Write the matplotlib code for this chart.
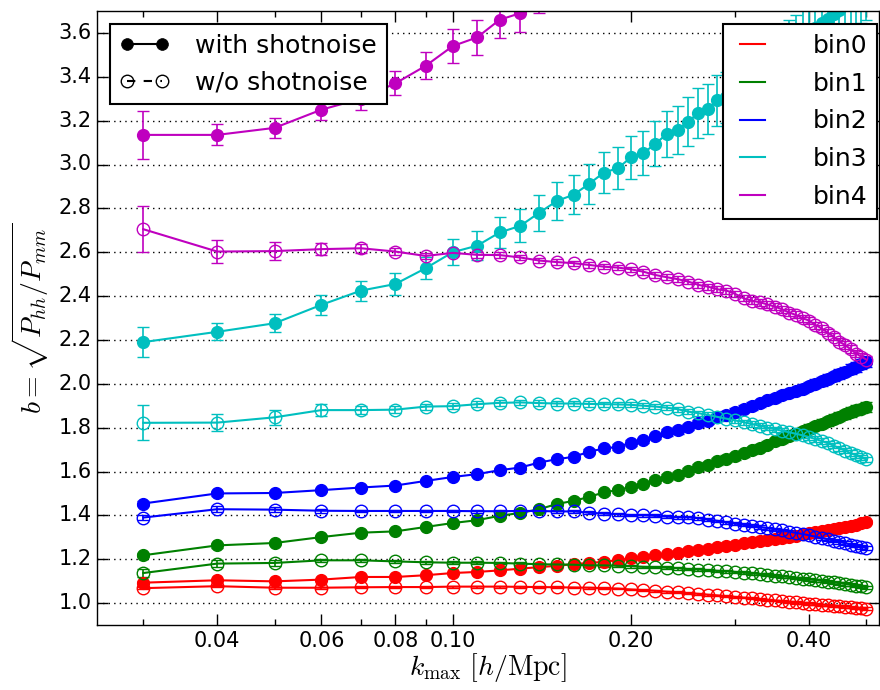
import matplotlib
matplotlib.use("Agg")
import matplotlib.pyplot as plt
from matplotlib.lines import Line2D
from matplotlib.ticker import FixedLocator, FormatStrFormatter, NullFormatter

# k_max values [h/Mpc]
kmax = [0.03, 0.04, 0.05, 0.06, 0.07, 0.08, 0.09, 0.10, 0.11, 0.12,
        0.13, 0.14, 0.15, 0.16, 0.17, 0.18, 0.19, 0.20, 0.21, 0.22,
        0.23, 0.24, 0.25, 0.26, 0.27, 0.28, 0.29, 0.30, 0.31, 0.32,
        0.33, 0.34, 0.35, 0.36, 0.37, 0.38, 0.39, 0.40, 0.41, 0.42,
        0.43, 0.44, 0.45, 0.46, 0.47, 0.48, 0.49, 0.50]

# bias with shotnoise
b_with_0 = [1.093, 1.104, 1.099, 1.107, 1.119, 1.119, 1.127, 1.137, 1.142, 1.149,
            1.157, 1.164, 1.170, 1.178, 1.183, 1.188, 1.196, 1.204, 1.211, 1.217,
            1.224, 1.229, 1.236, 1.242, 1.248, 1.254, 1.260, 1.266, 1.272, 1.277,
            1.283, 1.288, 1.293, 1.298, 1.303, 1.308, 1.313, 1.318, 1.323, 1.328,
            1.333, 1.338, 1.343, 1.348, 1.353, 1.358, 1.363, 1.370]
b_with_1 = [1.218, 1.263, 1.274, 1.301, 1.321, 1.327, 1.347, 1.365, 1.378, 1.398,
            1.411, 1.428, 1.452, 1.466, 1.484, 1.505, 1.515, 1.530, 1.545, 1.560,
            1.575, 1.586, 1.604, 1.619, 1.630, 1.646, 1.659, 1.670, 1.684, 1.697,
            1.709, 1.723, 1.737, 1.749, 1.761, 1.773, 1.785, 1.796, 1.807, 1.818,
            1.829, 1.840, 1.850, 1.860, 1.870, 1.879, 1.887, 1.895]
b_with_2 = [1.454, 1.500, 1.502, 1.515, 1.527, 1.536, 1.557, 1.575, 1.588, 1.606,
            1.618, 1.641, 1.656, 1.667, 1.690, 1.705, 1.712, 1.731, 1.742, 1.760,
            1.778, 1.787, 1.804, 1.820, 1.831, 1.847, 1.858, 1.872, 1.886, 1.899,
            1.911, 1.924, 1.937, 1.947, 1.957, 1.967, 1.978, 1.990, 2.001, 2.012,
            2.023, 2.034, 2.045, 2.056, 2.067, 2.078, 2.089, 2.100]
b_with_3 = [2.190, 2.237, 2.276, 2.360, 2.425, 2.455, 2.527, 2.600, 2.630, 2.690,
            2.720, 2.780, 2.834, 2.862, 2.912, 2.963, 2.983, 3.032, 3.052, 3.095,
            3.139, 3.158, 3.196, 3.235, 3.254, 3.292, 3.306, 3.342, 3.372, 3.400,
            3.427, 3.454, 3.480, 3.505, 3.530, 3.554, 3.577, 3.600, 3.622, 3.644,
            3.665, 3.686, 3.706, 3.726, 3.745, 3.764, 3.782, 3.800]
b_with_4 = [3.135, 3.135, 3.167, 3.250, 3.300, 3.370, 3.450, 3.540, 3.580, 3.660,
            3.690, 3.780, 3.830, 3.880, 3.940, 3.990, 4.040, 4.090, 4.130, 4.180,
            4.220, 4.260, 4.300, 4.340, 4.380, 4.420, 4.460, 4.500, 4.530, 4.570,
            4.600, 4.640, 4.670, 4.700, 4.730, 4.760, 4.790, 4.820, 4.850, 4.880,
            4.900, 4.930, 4.960, 4.980, 5.010, 5.030, 5.060, 5.080]

# bias without shotnoise
b_wo_0 = [1.068, 1.077, 1.070, 1.070, 1.072, 1.073, 1.073, 1.075, 1.075, 1.075,
          1.074, 1.073, 1.072, 1.071, 1.070, 1.068, 1.066, 1.062, 1.059, 1.056,
          1.052, 1.049, 1.045, 1.042, 1.038, 1.035, 1.031, 1.028, 1.025, 1.022,
          1.018, 1.015, 1.012, 1.009, 1.006, 1.003, 1.000, 0.998, 0.995, 0.993,
          0.991, 0.988, 0.986, 0.984, 0.982, 0.979, 0.977, 0.975]
b_wo_1 = [1.137, 1.180, 1.183, 1.195, 1.195, 1.190, 1.186, 1.184, 1.184, 1.183,
          1.180, 1.177, 1.176, 1.175, 1.172, 1.172, 1.170, 1.168, 1.165, 1.164,
          1.161, 1.159, 1.155, 1.153, 1.150, 1.147, 1.145, 1.142, 1.139, 1.136,
          1.132, 1.129, 1.125, 1.122, 1.119, 1.115, 1.111, 1.108, 1.105, 1.101,
          1.098, 1.094, 1.091, 1.087, 1.084, 1.080, 1.076, 1.072]
b_wo_2 = [1.390, 1.428, 1.426, 1.421, 1.420, 1.420, 1.420, 1.420, 1.419, 1.419,
          1.420, 1.420, 1.418, 1.418, 1.412, 1.408, 1.405, 1.401, 1.400, 1.398,
          1.394, 1.391, 1.391, 1.387, 1.380, 1.375, 1.368, 1.362, 1.357, 1.352,
          1.347, 1.342, 1.336, 1.331, 1.326, 1.320, 1.315, 1.309, 1.303, 1.297,
          1.291, 1.285, 1.279, 1.273, 1.267, 1.262, 1.256, 1.251]
b_wo_3 = [1.822, 1.823, 1.847, 1.880, 1.880, 1.882, 1.896, 1.898, 1.907, 1.913,
          1.915, 1.912, 1.910, 1.910, 1.908, 1.907, 1.906, 1.904, 1.900, 1.896,
          1.891, 1.884, 1.873, 1.866, 1.858, 1.849, 1.841, 1.833, 1.825, 1.817,
          1.809, 1.800, 1.793, 1.786, 1.779, 1.772, 1.765, 1.757, 1.748, 1.739,
          1.729, 1.718, 1.706, 1.695, 1.684, 1.674, 1.664, 1.655]
b_wo_4 = [2.705, 2.603, 2.605, 2.614, 2.618, 2.603, 2.583, 2.597, 2.588, 2.587,
          2.576, 2.562, 2.555, 2.550, 2.542, 2.534, 2.530, 2.522, 2.511, 2.496,
          2.486, 2.477, 2.466, 2.451, 2.443, 2.431, 2.425, 2.410, 2.390, 2.379,
          2.372, 2.362, 2.352, 2.340, 2.325, 2.314, 2.299, 2.288, 2.268, 2.253,
          2.233, 2.215, 2.192, 2.177, 2.158, 2.138, 2.124, 2.110]

# 1-sigma errors, with shotnoise
e_with_0 = [0.006, 0.005, 0.005, 0.005, 0.005, 0.005, 0.005, 0.005, 0.005, 0.005,
            0.005, 0.005, 0.005, 0.005, 0.005, 0.005, 0.005, 0.005, 0.005, 0.005,
            0.005, 0.005, 0.006, 0.006, 0.006, 0.006, 0.006, 0.006, 0.006, 0.006,
            0.006, 0.006, 0.006, 0.007, 0.007, 0.007, 0.007, 0.007, 0.007, 0.007,
            0.007, 0.007, 0.008, 0.008, 0.008, 0.008, 0.008, 0.008]
e_with_1 = [0.010, 0.012, 0.010, 0.009, 0.009, 0.009, 0.009, 0.010, 0.010, 0.010,
            0.010, 0.011, 0.011, 0.011, 0.012, 0.012, 0.012, 0.013, 0.013, 0.013,
            0.014, 0.014, 0.014, 0.015, 0.015, 0.015, 0.016, 0.016, 0.016, 0.017,
            0.017, 0.017, 0.018, 0.018, 0.018, 0.019, 0.019, 0.019, 0.020, 0.020,
            0.020, 0.021, 0.021, 0.021, 0.022, 0.022, 0.022, 0.023]
e_with_2 = [0.010, 0.012, 0.010, 0.009, 0.009, 0.009, 0.009, 0.010, 0.010, 0.010,
            0.010, 0.011, 0.011, 0.011, 0.012, 0.012, 0.012, 0.013, 0.013, 0.013,
            0.014, 0.014, 0.014, 0.015, 0.015, 0.015, 0.016, 0.016, 0.016, 0.017,
            0.017, 0.017, 0.018, 0.018, 0.018, 0.019, 0.019, 0.019, 0.020, 0.020,
            0.020, 0.021, 0.021, 0.021, 0.022, 0.022, 0.022, 0.023]
e_with_3 = [0.068, 0.038, 0.041, 0.046, 0.046, 0.050, 0.050, 0.060, 0.067, 0.070,
            0.075, 0.082, 0.085, 0.088, 0.090, 0.093, 0.097, 0.100, 0.102, 0.104,
            0.106, 0.108, 0.110, 0.112, 0.114, 0.116, 0.118, 0.120, 0.121, 0.122,
            0.123, 0.124, 0.125, 0.126, 0.127, 0.128, 0.129, 0.130, 0.131, 0.132,
            0.133, 0.134, 0.135, 0.136, 0.137, 0.138, 0.139, 0.140]
e_with_4 = [0.110, 0.048, 0.044, 0.046, 0.050, 0.055, 0.061, 0.076, 0.080, 0.085,
            0.088, 0.090, 0.093, 0.096, 0.099, 0.102, 0.105, 0.108, 0.110, 0.112,
            0.114, 0.116, 0.118, 0.120, 0.122, 0.124, 0.126, 0.128, 0.130, 0.132,
            0.134, 0.136, 0.138, 0.140, 0.142, 0.144, 0.146, 0.148, 0.150, 0.152,
            0.154, 0.156, 0.158, 0.160, 0.162, 0.164, 0.166, 0.168]

# 1-sigma errors, without shotnoise
e_wo_0 = [0.006, 0.004, 0.004, 0.004, 0.004, 0.004, 0.004, 0.004, 0.004, 0.004,
          0.004, 0.004, 0.004, 0.004, 0.004, 0.004, 0.004, 0.004, 0.004, 0.004,
          0.004, 0.004, 0.004, 0.004, 0.004, 0.004, 0.004, 0.004, 0.004, 0.004,
          0.004, 0.004, 0.004, 0.004, 0.004, 0.005, 0.005, 0.005, 0.005, 0.005,
          0.005, 0.005, 0.005, 0.005, 0.005, 0.005, 0.005, 0.005]
e_wo_1 = [0.018, 0.015, 0.012, 0.008, 0.007, 0.006, 0.006, 0.006, 0.006, 0.006,
          0.006, 0.006, 0.006, 0.006, 0.006, 0.006, 0.006, 0.006, 0.006, 0.006,
          0.006, 0.006, 0.006, 0.006, 0.006, 0.006, 0.006, 0.006, 0.006, 0.006,
          0.006, 0.006, 0.006, 0.006, 0.006, 0.006, 0.006, 0.007, 0.007, 0.007,
          0.007, 0.007, 0.007, 0.007, 0.007, 0.007, 0.007, 0.007]
e_wo_2 = [0.010, 0.014, 0.012, 0.008, 0.006, 0.006, 0.006, 0.006, 0.006, 0.006,
          0.006, 0.006, 0.006, 0.006, 0.006, 0.006, 0.006, 0.006, 0.006, 0.006,
          0.006, 0.006, 0.006, 0.006, 0.006, 0.006, 0.006, 0.006, 0.007, 0.007,
          0.007, 0.007, 0.007, 0.007, 0.007, 0.007, 0.007, 0.007, 0.007, 0.008,
          0.008, 0.008, 0.008, 0.008, 0.008, 0.008, 0.008, 0.008]
e_wo_3 = [0.080, 0.038, 0.033, 0.027, 0.018, 0.015, 0.014, 0.013, 0.013, 0.013,
          0.012, 0.012, 0.012, 0.012, 0.012, 0.012, 0.012, 0.012, 0.012, 0.012,
          0.012, 0.012, 0.012, 0.012, 0.012, 0.012, 0.012, 0.012, 0.012, 0.012,
          0.012, 0.012, 0.012, 0.012, 0.012, 0.012, 0.012, 0.012, 0.012, 0.012,
          0.012, 0.012, 0.012, 0.012, 0.012, 0.012, 0.012, 0.012]
e_wo_4 = [0.106, 0.053, 0.042, 0.027, 0.021, 0.015, 0.015, 0.013, 0.013, 0.012,
          0.012, 0.012, 0.012, 0.012, 0.012, 0.012, 0.012, 0.012, 0.013, 0.013,
          0.013, 0.013, 0.013, 0.013, 0.014, 0.014, 0.014, 0.014, 0.014, 0.015,
          0.015, 0.015, 0.015, 0.015, 0.016, 0.016, 0.016, 0.016, 0.016, 0.017,
          0.017, 0.017, 0.017, 0.018, 0.018, 0.018, 0.018, 0.018]

labels = ['bin0', 'bin1', 'bin2', 'bin3', 'bin4']
colors = ['r', 'g', 'b', 'c', 'm']
with_sn = [b_with_0, b_with_1, b_with_2, b_with_3, b_with_4]
wo_sn = [b_wo_0, b_wo_1, b_wo_2, b_wo_3, b_wo_4]
err_with = [e_with_0, e_with_1, e_with_2, e_with_3, e_with_4]
err_wo = [e_wo_0, e_wo_1, e_wo_2, e_wo_3, e_wo_4]

yticks = [1.0, 1.2, 1.4, 1.6, 1.8, 2.0, 2.2, 2.4, 2.6, 2.8, 3.0, 3.2, 3.4, 3.6]
xticks_major = [0.04, 0.06, 0.08, 0.10, 0.20, 0.40]
xticks_minor = [0.03, 0.05, 0.07, 0.09, 0.30, 0.50]

plt.style.use('classic')
plt.rcParams['mathtext.fontset'] = 'cm'

fig = plt.figure(figsize=(8.8, 6.9), dpi=100, facecolor='white')
ax = fig.add_axes([97/880, 65/690, 782/880, 614/690])

for i in range(5):
    # filled: with shotnoise, open: without
    ax.errorbar(kmax, with_sn[i], yerr=err_with[i], color=colors[i],
                marker='o', markersize=8.5, markeredgecolor=colors[i],
                markeredgewidth=1.0,
                linewidth=1.5, elinewidth=1.2, capsize=4.5, capthick=1.2)
    ax.errorbar(kmax, wo_sn[i], yerr=err_wo[i], color=colors[i],
                marker='o', markersize=9, markerfacecolor='none',
                markeredgecolor=colors[i], markeredgewidth=1.0,
                linewidth=1.5, elinewidth=1.2, capsize=4.5, capthick=1.2)

ax.set_xscale('log')
ax.set_xlim(0.02506, 0.525)
ax.set_ylim(0.9, 3.7)

ax.xaxis.set_major_locator(FixedLocator(xticks_major))
ax.xaxis.set_minor_locator(FixedLocator(xticks_minor))
ax.xaxis.set_major_formatter(FormatStrFormatter('%.2f'))
ax.xaxis.set_minor_formatter(NullFormatter())
ax.yaxis.set_major_locator(FixedLocator(yticks))
ax.yaxis.set_major_formatter(FormatStrFormatter('%.1f'))
ax.tick_params(axis='both', which='major', labelsize=15, length=8, width=1)
ax.tick_params(axis='both', which='minor', length=4, width=1)

ax.yaxis.grid(True, linestyle=':', color='k', linewidth=1)
ax.set_axisbelow(True)

ax.set_xlabel(r'$k_{\rm max}\ [h/{\rm Mpc}]$', fontsize=20, labelpad=0)
ax.set_ylabel(r'$b=\sqrt{P_{hh}/P_{mm}}$', fontsize=20)

# legend for marker style
style_handles = [
    Line2D([], [], color='k', marker='o', markersize=8.5, linewidth=1.5),
    Line2D([], [], color='k', marker='o', markersize=9, markerfacecolor='none',
           markeredgewidth=1.0, linestyle='--', linewidth=1.5),
]
leg1 = ax.legend(style_handles, ['with shotnoise', 'w/o shotnoise'],
                 loc='upper left', bbox_to_anchor=(0.0166, 0.979),
                 borderaxespad=0, fontsize=18, numpoints=2,
                 handlelength=2.0, handletextpad=1.0, labelspacing=0.5)
leg1.get_frame().set_linewidth(1.5)
ax.add_artist(leg1)

# legend for bins
bin_handles = [Line2D([], [], color=c, linewidth=1.5) for c in colors]
leg2 = ax.legend(bin_handles, labels, loc='upper right',
                 bbox_to_anchor=(0.998, 0.979), borderaxespad=0,
                 fontsize=18, handlelength=1.6, handletextpad=1.6,
                 labelspacing=0.55)
leg2.get_frame().set_linewidth(1.5)

fig.savefig('out.png', dpi=100, facecolor='white')
